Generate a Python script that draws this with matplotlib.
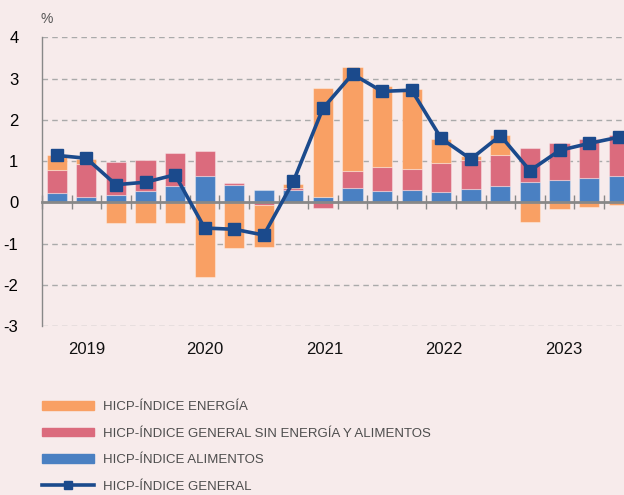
import matplotlib
matplotlib.use("Agg")
import matplotlib.pyplot as plt
import matplotlib.transforms as mtransforms
from matplotlib.patches import Patch
from matplotlib.lines import Line2D
import numpy as np

# quarterly contributions, 2019Q1 - 2023Q4 (pp)
quarters = [f"{y}T{q}" for y in range(2019, 2024) for q in range(1, 5)]
alimentos = [0.23, 0.12, 0.18, 0.28, 0.40, 0.64, 0.42, 0.29, 0.29, 0.12,
             0.34, 0.28, 0.30, 0.25, 0.32, 0.40, 0.49, 0.54, 0.60, 0.65]
subyacente = [0.55, 0.80, 0.79, 0.76, 0.79, 0.60, 0.05, -0.05, 0.07, -0.14,
              0.41, 0.59, 0.50, 0.71, 0.70, 0.75, 0.82, 0.89, 0.94, 0.98]
energia = [0.36, 0.13, -0.50, -0.50, -0.50, -1.81, -1.11, -1.04, 0.08, 2.66,
           2.53, 1.95, 1.94, 0.58, 0.10, 0.48, -0.48, -0.15, -0.10, -0.06]
general = [1.14, 1.07, 0.43, 0.49, 0.67, -0.62, -0.65, -0.79, 0.51, 2.28,
           3.11, 2.69, 2.72, 1.55, 1.05, 1.62, 0.77, 1.26, 1.43, 1.58]
years = ["2019", "2020", "2021", "2022", "2023"]
year_pos = [1.0, 5.0, 9.05, 13.1, 17.15]

labels = ["HICP-ÍNDICE ENERGÍA",
          "HICP-ÍNDICE GENERAL SIN ENERGÍA Y ALIMENTOS",
          "HICP-ÍNDICE ALIMENTOS",
          "HICP-ÍNDICE GENERAL"]

bg = "#F7EBEB"
c_en = "#F9A064"
c_sub = "#DB6B7D"
c_ali = "#4A80C2"
c_gen = "#1B4A8C"

plt.rcParams["font.family"] = ["Liberation Sans", "DejaVu Sans"]

fig = plt.figure(figsize=(6.24, 4.95), dpi=100, facecolor=bg)
ax = fig.add_axes([42 / 624, 1 - 326.3 / 495, 1 - 42 / 624, (326.3 - 37.3) / 495])
ax.set_facecolor(bg)

x = np.arange(len(quarters))
ali = np.array(alimentos)
sub = np.array(subyacente)
ene = np.array(energia)

# stack positives upward and negatives downward
pos_base = np.zeros(len(x))
neg_base = np.zeros(len(x))
w = 0.68
for vals, col in [(ali, c_ali), (sub, c_sub), (ene, c_en)]:
    bottoms = np.where(vals >= 0, pos_base, neg_base)
    ax.bar(x, vals, bottom=bottoms, width=w, color=col,
           edgecolor=(1, 1, 1, 0.35), linewidth=0.8, zorder=3)
    pos_base = pos_base + np.where(vals >= 0, vals, 0)
    neg_base = neg_base + np.where(vals < 0, vals, 0)

ax.plot(x, general, color=c_gen, lw=2.6, marker="s", markersize=8,
        zorder=5)

ax.set_xlim(-0.5, 19.18)
ax.set_ylim(-3, 4)
ax.set_yticks(range(-3, 5))
ax.set_yticklabels([str(v) for v in range(-3, 5)], fontsize=12)
ax.tick_params(axis="y", length=0, pad=17)
for v in range(-3, 5):
    if v != 0:
        ax.axhline(v, color="#AAAAAA", lw=1, ls=(0, (4, 3)), zorder=1)

for s in ["top", "right"]:
    ax.spines[s].set_visible(False)
ax.spines["left"].set_color("#888888")
ax.spines["left"].set_linewidth(1)
ax.spines["bottom"].set_position(("data", 0))
ax.spines["bottom"].set_color("#888888")
ax.spines["bottom"].set_linewidth(2)
ax.spines["bottom"].set_zorder(4)
ax.set_xticks(np.arange(-0.5, 19, 1))
ax.set_xticklabels([])
ax.tick_params(axis="x", direction="inout", length=10, width=1,
               color="#888888")

trans = mtransforms.blended_transform_factory(ax.transData, fig.transFigure)
for p, yr in zip(year_pos, years):
    ax.text(p, 1 - 349 / 495, yr, transform=trans, ha="center", va="center",
            fontsize=12, color="#111111")

fig.text(47 / 624, 1 - 19 / 495, "%", ha="center", va="center",
         fontsize=10, color="#555555")

handles = [Patch(color=c_en), Patch(color=c_sub), Patch(color=c_ali),
           Line2D([0], [0], color=c_gen, lw=2.6, marker="s", markersize=6)]
leg = fig.legend(handles, labels, loc="upper left",
                 bbox_to_anchor=(42 / 624, 1 - 401 / 495), frameon=False,
                 handlelength=3.94, handleheight=0.6, labelspacing=1.1,
                 handletextpad=0.68, borderaxespad=0, borderpad=0,
                 prop={"size": 9.5})
for t in leg.get_texts():
    t.set_color("#4D4D4D")

fig.savefig("out.png", dpi=100, facecolor=bg)
